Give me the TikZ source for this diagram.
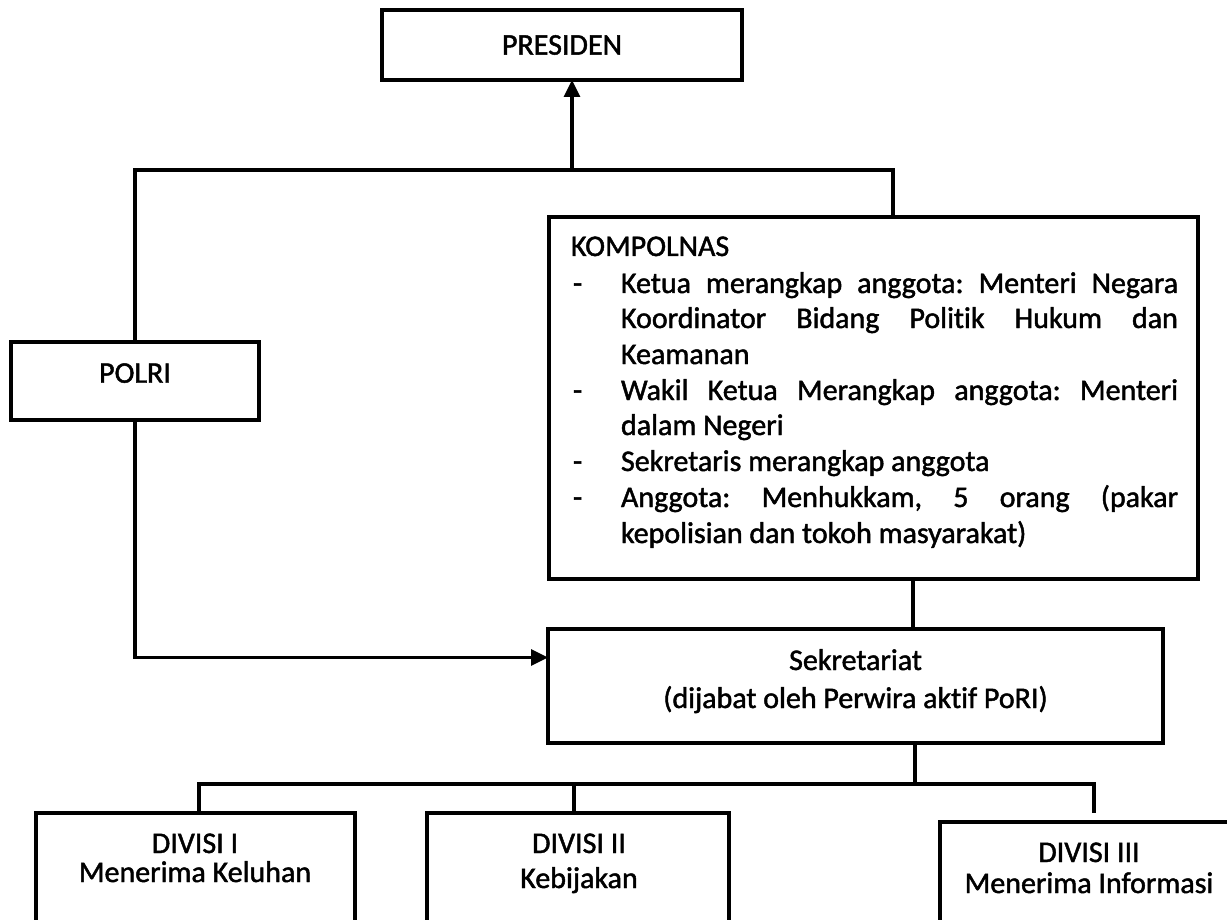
\documentclass[tikz,border=0pt]{standalone}
\usepackage{fontspec}
\setmainfont{Carlito}[Ligatures={NoCommon}, FakeBold=1.5]
\usetikzlibrary{arrows.meta,calc}
\frenchspacing
\newcommand\fsz{\fontsize{30}{36}\selectfont}
\newcommand\jl[1]{\makebox[557pt][s]{#1}}
\tikzset{
  box/.style={draw, line width=3.2pt, inner sep=0pt, outer sep=0pt, font=\fsz},
  conn/.style={line width=3.2pt},
  arr/.style={conn, -{Triangle[length=17pt,width=16pt]}},
  txt/.style={inner sep=0pt, outer sep=0pt, font=\fsz},
}
\begin{document}
\begin{tikzpicture}[x=1pt,y=-1pt]
\useasboundingbox (0,0) rectangle (1227,920);
\fill[white] (0,0) rectangle (1227,920);
\clip (0,0) rectangle (1227,920);

% boxes
\node[box, minimum width=360pt, minimum height=70pt] (pres) at (562,45) {PRESIDEN};
\node[box, minimum width=248pt, minimum height=78pt, text depth=16pt] (polri) at (135,381) {POLRI};
\node[box, minimum width=649pt, minimum height=362pt] (komp) at (873.5,398) {};
\node[box, minimum width=615pt, minimum height=114pt] (sek) at (855.5,686) {};
\node[box, minimum width=319pt, minimum height=140pt, anchor=north west] (div1) at (36,813) {};
\node[box, minimum width=302pt, minimum height=140pt, anchor=north west] (div2) at (427,813) {};
\node[box, minimum width=300pt, minimum height=130pt, anchor=north west] (div3) at (940,822) {};

% KOMPOLNAS text
\node[txt, anchor=base west] (kt) at (571,256) {KOMPOLNAS};
\node[txt, anchor=base west] (m1) at (573,293) {-};
\node[txt, anchor=base west] (m2) at (573,400) {-};
\node[txt, anchor=base west] (m3) at (573,471) {-};
\node[txt, anchor=base west] (m4) at (573,507) {-};
\node[txt, anchor=base west] (l1) at (621,293) {\jl{Ketua merangkap anggota: Menteri Negara}};
\node[txt, anchor=base west] (l2) at (621,328) {\jl{Koordinator Bidang Politik Hukum dan}};
\node[txt, anchor=base west] (l3) at (621,364) {Keamanan};
\node[txt, anchor=base west] (l4) at (621,400) {\jl{Wakil Ketua Merangkap anggota: Menteri}};
\node[txt, anchor=base west] (l5) at (621,435) {dalam Negeri};
\node[txt, anchor=base west] (l6) at (621,471) {Sekretaris merangkap anggota};
\node[txt, anchor=base west] (l7) at (621,507) {\jl{Anggota: Menhukkam, 5 orang (pakar}};
\node[txt, anchor=base west] (l8) at (621,543) {kepolisian dan tokoh masyarakat)};

% Sekretariat text
\node[txt, anchor=base] (s1) at (855.5,670) {Sekretariat};
\node[txt, anchor=base] (s2) at (855.5,708) {(dijabat oleh Perwira aktif PoRI)};

% Divisi texts
\node[txt, anchor=base] (d1a) at (195,853) {DIVISI I};
\node[txt, anchor=base] (d1b) at (195,882) {Menerima Keluhan};
\node[txt, anchor=base] (d2a) at (579,853) {DIVISI II};
\node[txt, anchor=base] (d2b) at (579,888) {Kebijakan};
\node[txt, anchor=base] (d3a) at (1089,862) {DIVISI III};
\node[txt, anchor=base] (d3b) at (1089,893) {Menerima Informasi};

% connectors
\coordinate (tr) at (893,170);
\coordinate (pa) at (572,170);
\draw[conn] (polri.north) |- (tr) -- (tr |- komp.north);
\draw[arr] (pa) -- (pa |- pres.south);
\coordinate (sin) at ($(sek.north west)!0.25!(sek.south west)$);
\draw[arr] (polri.south) |- (sin);
\coordinate (kx) at (913,600);
\draw[conn] (kx |- komp.south) -- (kx |- sek.north);
\coordinate (bus) at (915,784);
\draw[conn] (bus |- sek.south) -- (bus);
\coordinate (b1) at (199,784);
\coordinate (b2) at (574,784);
\coordinate (b3) at (1094,784);
\coordinate (b3e) at (1094,813);
\draw[conn] (b1 |- div1.north) -- (b1) -- (b3) -- (b3e);
\draw[conn] (b2) -- (b2 |- div2.north);
\end{tikzpicture}
\end{document}
